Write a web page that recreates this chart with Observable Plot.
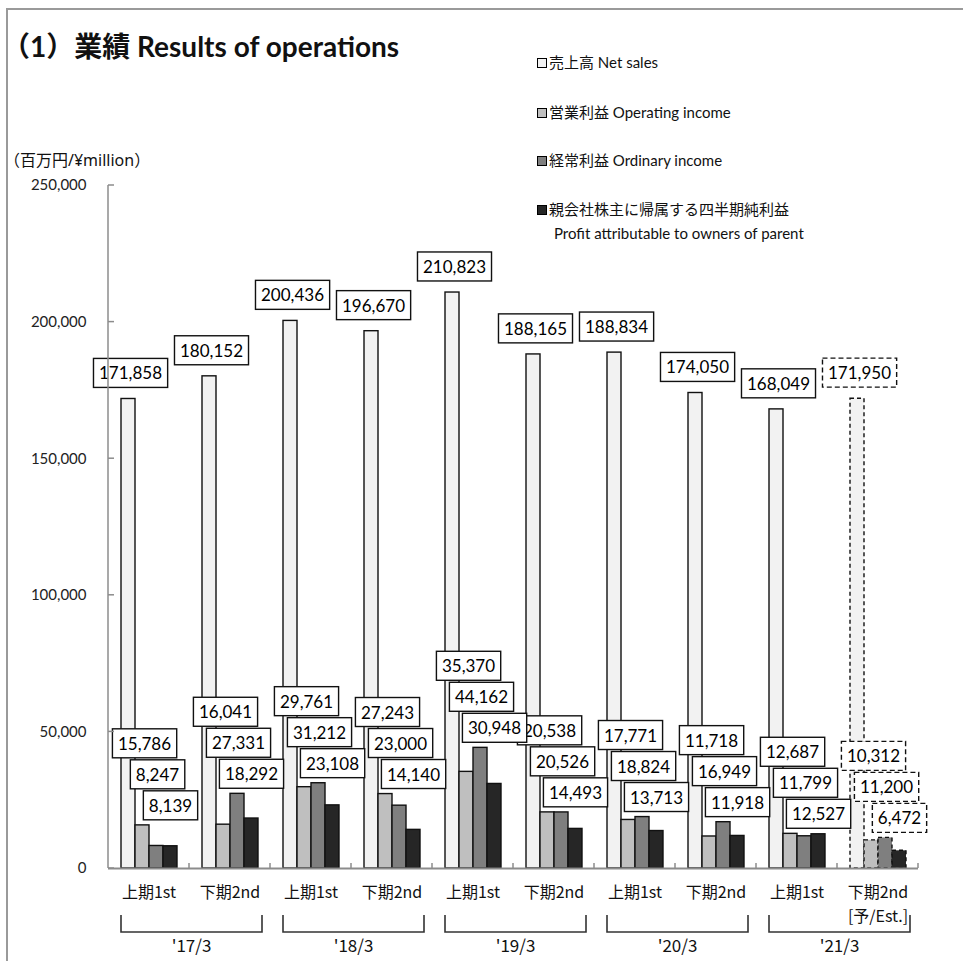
<!DOCTYPE html>
<html>
<head>
<meta charset="utf-8">
<script src="https://cdn.jsdelivr.net/npm/d3@7"></script>
<script src="https://cdn.jsdelivr.net/npm/@observablehq/plot@0.6"></script>
<style>
  body { margin: 0; background: #fff; }
  #wrap { position: relative; width: 963px; height: 961px; overflow: hidden; background: #fff;
          font-family: Lato, "Noto Sans CJK JP", sans-serif; color: #111; }
  #wrap svg { position: absolute; left: 0; top: 0; overflow: visible; background: transparent; }
  #border { position: absolute; left: 6px; top: 8px; width: 1000px; height: 1000px;
            border-left: 2px solid #9a9a9a; border-top: 2px solid #9a9a9a; pointer-events: none; }
  #title { position: absolute; left: 2px; top: 32px; font-size: 28px; font-weight: bold; white-space: nowrap; line-height: 1; }
  #unit { position: absolute; left: 4px; top: 149px; font-size: 16px; white-space: nowrap; line-height: 22px;
          font-family: "Noto Sans", "Noto Sans CJK JP", sans-serif; }
  .leg { position: absolute; left: 537px; font-size: 15px; white-space: nowrap; line-height: 20px; }
  .sw { display: inline-block; width: 8px; height: 8px; border: 1.5px solid #000; margin-right: 2px; vertical-align: 0px; }
</style>
</head>
<body>
<div id="wrap">
  <div id="title">（1）業績 Results of operations</div>
  <div id="unit">（百万円/¥million）</div>
  <div id="legend"></div>
</div>
<script>
// ---- data ----
const periods = ["'17/3 上期", "'17/3 下期", "'18/3 上期", "'18/3 下期", "'19/3 上期",
                 "'19/3 下期", "'20/3 上期", "'20/3 下期", "'21/3 上期", "'21/3 下期"];
const halfLabels = ["上期1st", "下期2nd", "上期1st", "下期2nd", "上期1st",
                    "下期2nd", "上期1st", "下期2nd", "上期1st", "下期2nd\n[予/Est.]"];
const years = ["'17/3", "'18/3", "'19/3", "'20/3", "'21/3"];
const isEstimate = [false, false, false, false, false, false, false, false, false, true];
const seriesNames = ["売上高 Net sales", "営業利益 Operating income", "経常利益 Ordinary income", "親会社株主に帰属する四半期純利益"];
const seriesSub = ["", "", "", "Profit attributable to owners of parent"];
const seriesColors = ["#f2f2f2", "#bfbfbf", "#7f7f7f", "#262626"];
const netSales        = [171858, 180152, 200436, 196670, 210823, 188165, 188834, 174050, 168049, 171950];
const operatingIncome = [15786, 16041, 29761, 27243, 35370, 20538, 17771, 11718, 12687, 10312];
const ordinaryIncome  = [8247, 27331, 31212, 23000, 44162, 20526, 18824, 16949, 11799, 11200];
const profitOwners    = [8139, 18292, 23108, 14140, 30948, 14493, 13713, 11918, 12527, 6472];
const yTicks = [0, 50000, 100000, 150000, 200000, 250000];

// ---- derived table ----
const seriesValues = [netSales, operatingIncome, ordinaryIncome, profitOwners];
const rows = [];
periods.forEach((p, i) => {
  const stackTop = Math.max(operatingIncome[i], ordinaryIncome[i], profitOwners[i]);
  seriesNames.forEach((s, k) => rows.push({period: p, series: s, k, value: seriesValues[k][i], est: isEstimate[i], stackTop}));
});
const periodRows = periods.map((p, i) => ({period: p, half: halfLabels[i]}));
const yearRows = years.map((y, j) => ({period: periods[2 * j + 1], year: y}));

const fmt = d3.format(",");
const LAT = "Lato, 'Noto Sans CJK JP', sans-serif";
const CJK = "'Noto Sans CJK JP', sans-serif";

function labelMarks(data, desc) {
  const common = {fx: "period", x: "series", fontSize: 17, fontFamily: LAT, fill: "#000", ariaDescription: desc, text: d => fmt(d.value)};
  return [
    Plot.text(data.filter(d => d.k === 0), {...common, y: "value", dy: -25, dx: 2}),
    Plot.text(data.filter(d => d.k === 1), {...common, y: "stackTop", dy: -81, dx: 2}),
    Plot.text(data.filter(d => d.k === 2), {...common, y: "stackTop", dy: -50, dx: 1}),
    Plot.text(data.filter(d => d.k === 3), {...common, y: "stackTop", dy: -19, dx: 0})
  ];
}

const actual = rows.filter(d => !d.est);
const est = rows.filter(d => d.est);
const barOpts = {fx: "period", x: "series", y: "value", fill: "series", stroke: "#111", strokeWidth: 1.4};

const chart = Plot.plot({
  width: 963, height: 961,
  marginLeft: 106, marginRight: 43, marginTop: 185, marginBottom: 93,
  style: {fontFamily: LAT, fontSize: "15px", color: "#222", background: "transparent"},
  fx: {domain: periods, padding: 0, axis: null, label: null},
  x: {domain: seriesNames, paddingInner: 0, paddingOuter: 0.8, align: 0.5, axis: null, label: null},
  y: {domain: [0, 250000], ticks: yTicks, tickFormat: d3.format(","), tickSize: 0, tickPadding: 22, label: null},
  color: {domain: seriesNames, range: seriesColors},
  marks: [
    Plot.barY(actual, barOpts),
    Plot.barY(est, {...barOpts, strokeDasharray: "4,3"}),
    Plot.ruleY([0], {stroke: "#8c8c8c", strokeWidth: 2}),
    ...labelMarks(actual, "boxlabel"),
    ...labelMarks(est, "boxlabel-dashed"),
    Plot.text(periodRows, {fx: "period", text: "half", frameAnchor: "bottom", lineAnchor: "top", dy: 12, lineHeight: 1.5, fontSize: 16, fontFamily: CJK, fill: "#111"}),
    Plot.text(yearRows, {fx: "period", text: "year", frameAnchor: "bottom-left", textAnchor: "middle", dy: 83, dx: 2, fontSize: 17, fontFamily: CJK, fill: "#111"})
  ]
});

const wrap = document.getElementById("wrap");
wrap.insertBefore(chart, wrap.firstChild);
const border = document.createElement("div");
border.id = "border";
wrap.appendChild(border);

// legend (HTML)
const legend = document.getElementById("legend");
const legTops = [52, 102, 150, 199];
seriesNames.forEach((s, k) => {
  const div = document.createElement("div");
  div.className = "leg";
  div.style.top = legTops[k] + "px";
  div.innerHTML = `<span class="sw" style="background:${seriesColors[k]}"></span>${s}` +
    (seriesSub[k] ? `<div style="margin-left:17px;margin-top:4px">${seriesSub[k]}</div>` : "");
  legend.appendChild(div);
});

// ---- boxed labels ----
const NS = "http://www.w3.org/2000/svg";
function boxify(desc, dashed) {
  chart.querySelectorAll(`g[aria-description="${desc}"] text`).forEach(t => {
    const b = t.getBBox();
    const r = document.createElementNS(NS, "rect");
    const padX = 5.5, h = 29;
    r.setAttribute("x", b.x - padX);
    r.setAttribute("y", b.y + b.height / 2 - h / 2);
    r.setAttribute("width", b.width + 2 * padX);
    r.setAttribute("height", h);
    r.setAttribute("fill", "#fff");
    r.setAttribute("stroke", "#111");
    r.setAttribute("stroke-width", 1.4);
    if (dashed) r.setAttribute("stroke-dasharray", "5,3");
    const tr = t.getAttribute("transform");
    if (tr) r.setAttribute("transform", tr);
    t.parentNode.insertBefore(r, t);
  });
}
boxify("boxlabel", false);
boxify("boxlabel-dashed", true);

// ---- axis line, inward ticks, brackets (positions from the chart's scales) ----
const fxS = chart.scale("fx"), xS = chart.scale("x"), yS = chart.scale("y");
const bw = fxS.bandwidth;
const x0 = fxS.apply(periods[0]);
const y0 = yS.apply(0);
const svg = d3.select(chart);
const deco = svg.append("g").attr("stroke", "#8c8c8c").attr("fill", "none");
deco.append("line").attr("x1", x0).attr("x2", x0).attr("y1", yS.apply(yTicks[yTicks.length - 1])).attr("y2", y0).attr("stroke-width", 1.5);
yTicks.forEach(v => deco.append("line").attr("x1", x0).attr("x2", x0 + 6).attr("y1", yS.apply(v)).attr("y2", yS.apply(v)).attr("stroke-width", 1.5));
periods.forEach((p, i) => {
  if (i === 0) return;
  const xb = fxS.apply(p);
  deco.append("line").attr("x1", xb).attr("x2", xb).attr("y1", y0 - 5).attr("y2", y0).attr("stroke-width", 1.5);
});
{
  const xe = fxS.apply(periods[periods.length - 1]) + bw;
  deco.append("line").attr("x1", xe).attr("x2", xe).attr("y1", y0 - 5).attr("y2", y0).attr("stroke-width", 1.5);
}
const xr = xS.range;
const frac = (xS.apply(seriesNames[0]) - xr[0]) / (xr[1] - xr[0]);
const br = svg.append("g").attr("stroke", "#333").attr("fill", "none").attr("stroke-width", 1.6);
years.forEach((y, j) => {
  const left = fxS.apply(periods[2 * j]) + frac * bw;
  const right = fxS.apply(periods[2 * j + 1]) + bw - 8;
  br.append("path").attr("d", `M${left},${y0 + 47}V${y0 + 64}H${right}V${y0 + 47}`);
});
</script>
</body>
</html>
